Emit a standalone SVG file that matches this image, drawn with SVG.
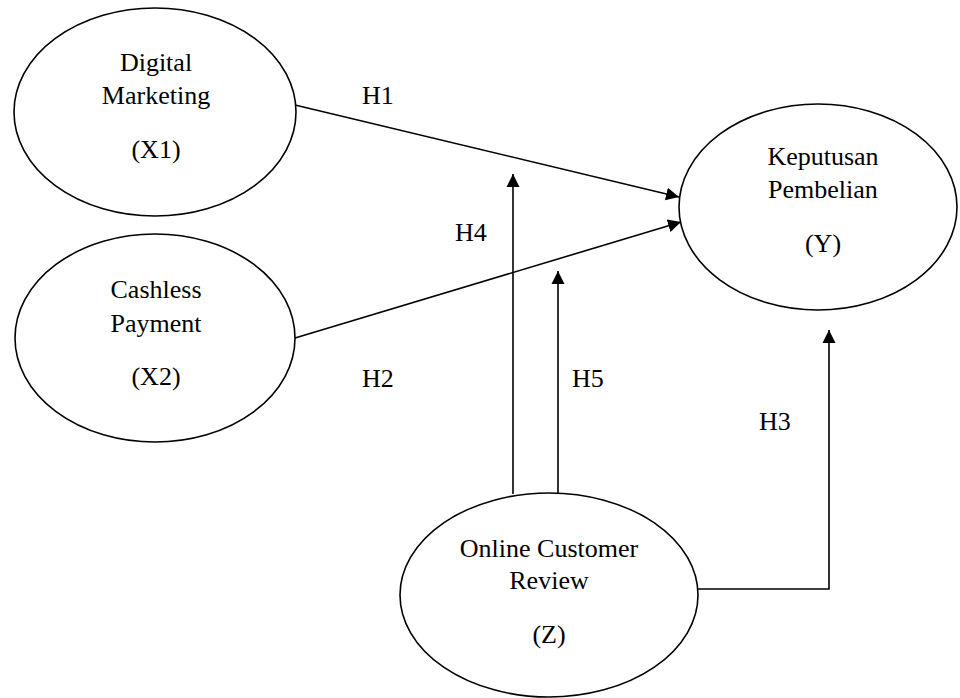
<svg xmlns="http://www.w3.org/2000/svg" width="960" height="698" viewBox="0 0 960 698">
<style>
.node ellipse{fill:#fff;stroke:#000;stroke-width:1.6}
text{font-family:"Liberation Serif","Times New Roman",serif;font-size:26px;fill:#000;text-anchor:middle}
.lbl{text-anchor:start}
.conn{fill:none;stroke:#000;stroke-width:1.6}
</style>
<defs>
<marker id="arr" markerUnits="userSpaceOnUse" markerWidth="14" markerHeight="14" viewBox="0 0 14 14" refX="13" refY="7" orient="auto">
<path d="M0,0.5 L13,7 L0,13.5 Z" fill="#000"/>
</marker>
</defs>
<rect width="960" height="698" fill="#fff"/>
<g id="connectors">
<line class="conn" x1="295" y1="105" x2="679" y2="197" marker-end="url(#arr)"/>
<line class="conn" x1="295" y1="338" x2="681" y2="222" marker-end="url(#arr)"/>
<line class="conn" x1="513" y1="494" x2="513" y2="174" marker-end="url(#arr)"/>
<line class="conn" x1="558" y1="493" x2="558" y2="271" marker-end="url(#arr)"/>
<polyline class="conn" points="698,589 829,589 829,330" marker-end="url(#arr)"/>
</g>
<g id="X1" class="node">
<ellipse cx="155" cy="112" rx="141" ry="104"/>
<text x="156" y="71">Digital</text>
<text x="156" y="104">Marketing</text>
<text x="156" y="158">(X1)</text>
</g>
<g id="X2" class="node">
<ellipse cx="155" cy="338" rx="140" ry="104"/>
<text x="156" y="298">Cashless</text>
<text x="156" y="332">Payment</text>
<text x="156" y="385">(X2)</text>
</g>
<g id="Y" class="node">
<ellipse cx="818" cy="207" rx="139" ry="103"/>
<text x="823" y="165">Keputusan</text>
<text x="823" y="198">Pembelian</text>
<text x="823" y="252">(Y)</text>
</g>
<g id="Z" class="node">
<ellipse cx="549" cy="595" rx="149" ry="102"/>
<text x="549" y="557">Online Customer</text>
<text x="549" y="589">Review</text>
<text x="549" y="643">(Z)</text>
</g>
<g id="labels">
<text class="lbl" x="362" y="104">H1</text>
<text class="lbl" x="455" y="241">H4</text>
<text class="lbl" x="362" y="387">H2</text>
<text class="lbl" x="572" y="387">H5</text>
<text class="lbl" x="759" y="430">H3</text>
</g>
</svg>
